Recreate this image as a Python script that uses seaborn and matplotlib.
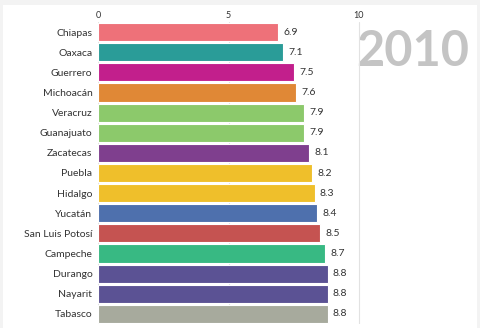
import matplotlib
matplotlib.use("Agg")
import matplotlib.pyplot as plt
import seaborn as sns
import pandas as pd
from matplotlib.patches import Rectangle

states = ["Chiapas", "Oaxaca", "Guerrero", "Michoacán", "Veracruz", "Guanajuato",
          "Zacatecas", "Puebla", "Hidalgo", "Yucatán", "San Luis Potosí", "Campeche",
          "Durango", "Nayarit", "Tabasco"]
values = [6.9, 7.1, 7.5, 7.6, 7.9, 7.9, 8.1, 8.2, 8.3, 8.4, 8.5, 8.7, 8.8, 8.8, 8.8]
colors = ["#ee7179", "#2a9c98", "#c21f8c", "#e08836", "#8cc96b", "#8cc96b",
          "#7f3f8e", "#efbf2b", "#efbf2b", "#4e70ad", "#c55351", "#38b983",
          "#5b5294", "#5b5294", "#a7aa9d"]
year = "2010"
xticks = [0, 5, 10]

df = pd.DataFrame({"state": states, "value": values})
palette = dict(zip(states, colors))

sns.set_theme(style="white")
plt.rcParams["font.family"] = ["Lato", "DejaVu Sans"]

fig = plt.figure(figsize=(4.8, 3.28), dpi=100, facecolor="#f3f3f3")
fig.patches.append(Rectangle((3 / 480, 0), 474 / 480, 323 / 328,
                             transform=fig.transFigure, facecolor="white",
                             edgecolor="none", zorder=-10))

fig.text(413 / 480, 1 - 52 / 328, year, ha="center", va="center",
         fontsize=35, fontweight="bold", color="#c4c4c4", zorder=-5)

ax = fig.add_axes([98 / 480, 4 / 328, 379 / 480, 302 / 328])
ax.set_facecolor("none")
ax.set_zorder(2)

sns.barplot(data=df, y="state", x="value", hue="state", palette=palette,
            dodge=False, legend=False, width=0.9, ax=ax,
            edgecolor="white", linewidth=0.8, saturation=1, zorder=3)

ax.set_xlim(0, 379 / 26.1)
ax.set_ylim(14.5, -0.5)
ax.set_xticks(xticks)
ax.xaxis.tick_top()
ax.tick_params(axis="x", length=0, pad=1.5, labelsize=6.5, labelcolor="#333333")
ax.tick_params(axis="y", length=0, pad=4, labelsize=7.5, labelcolor="#333333")
ax.set_xlabel("")
ax.set_ylabel("")
ax.grid(axis="x", color="#e2e2e2", linewidth=0.8, zorder=0)
ax.set_axisbelow(True)
for s in ax.spines.values():
    s.set_visible(False)

for i, v in enumerate(values):
    ax.text(v + 0.2, i, f"{v:.1f}", va="center", ha="left",
            fontsize=7.5, color="#333333", zorder=4)

fig.savefig("out.png", dpi=100, facecolor=fig.get_facecolor())
